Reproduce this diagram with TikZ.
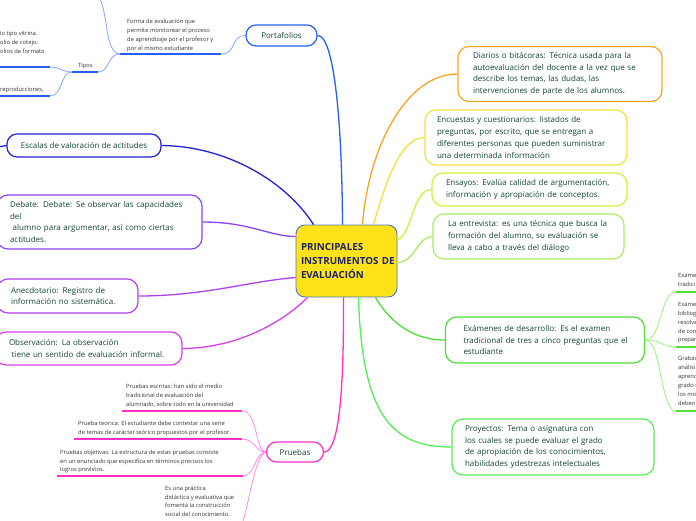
\documentclass[tikz,border=0pt]{standalone}
\usepackage{fontspec}
\setmainfont{Open Sans}
\definecolor{txt}{HTML}{15443A}
\definecolor{stxt}{HTML}{333333}
\definecolor{cblue}{HTML}{2660F5}
\definecolor{lblue}{HTML}{86A6FF}
\definecolor{escb}{HTML}{2222D0}
\definecolor{debc}{HTML}{8B45F0}
\definecolor{anec}{HTML}{B042EE}
\definecolor{obsc}{HTML}{D83FE8}
\definecolor{pruc}{HTML}{FF2FC8}
\definecolor{lpru}{HTML}{FF8AE6}
\definecolor{diac}{HTML}{F6A623}
\definecolor{encc}{HTML}{F2E33A}
\definecolor{ensc}{HTML}{D4F03A}
\definecolor{entc}{HTML}{A8EE62}
\definecolor{exac}{HTML}{52DD38}
\definecolor{lexa}{HTML}{9CF080}
\definecolor{proc}{HTML}{55EE55}
\definecolor{cyel}{HTML}{FFE21A}
\definecolor{cbor}{HTML}{4A78C0}
\definecolor{ctxt}{HTML}{1A2466}
\tikzset{
  mbox/.style={draw, rounded corners=11pt, line width=1.2pt, fill=white, align=left,
    font=\fontsize{8}{11.7}\selectfont, text=txt, inner ysep=0pt},
  pill/.style={draw, rounded corners=10pt, line width=1.2pt, fill=white,
    font=\fontsize{8}{11.7}\selectfont, text=txt, inner sep=0pt},
  conn/.style={line width=1.3pt},
  twig/.style={line width=0.8pt},
  uline/.style={line width=2pt},
  small/.style={font=\fontsize{5.8}{8.9}\selectfont, text=stxt, align=left, inner sep=0pt, anchor=north west}
}
\begin{document}
\begin{tikzpicture}[x=1pt,y=-1pt]
\useasboundingbox (0,0) rectangle (696,520);
\fill[white] (0,0) rectangle (696,520);

% central node
\node[draw=cbor, line width=0.9pt, fill=cyel, rounded corners=9pt, minimum width=101pt, minimum height=72pt,
  text width=99pt, inner xsep=1pt, align=left, font=\bfseries\fontsize{9.8}{13.6}\selectfont, text=ctxt]
  (cen) at (346.5,261) {\hspace*{4pt}PRINCIPALES\\\hspace*{4pt}INSTRUMENTOS DE\\\hspace*{4pt}EVALUACIÓN};

% right side boxes
\node[mbox, draw=diac, minimum width=204pt, minimum height=55pt, text width=180pt, inner xsep=12pt]
  (diar) at (560,74) {\hspace*{3pt}Diarios o bitácoras: Técnica usada para la\\\hspace*{3pt}autoevaluación del docente a la vez que se\\\hspace*{3pt}describe los temas, las dudas, las\\\hspace*{3pt}intervenciones de parte de los alumnos.};
\node[mbox, draw=encc, minimum width=202pt, minimum height=55pt, text width=184pt, inner xsep=9pt]
  (enc) at (526,137.5) {\hspace*{3pt}Encuestas y cuestionarios:  listados de\\\hspace*{3pt}preguntas, por escrito, que se entregan a\\\hspace*{3pt}diferentes personas que pueden suministrar\\\hspace*{3pt}una determinada información};
\node[mbox, draw=ensc, minimum width=195pt, minimum height=33pt, text width=173pt, inner xsep=11pt]
  (ens) at (529.5,189.5) {\hspace*{3pt}Ensayos: Evalúa calidad de argumentación,\\\hspace*{3pt}información y apropiación de conceptos.};
\node[mbox, draw=entc, minimum width=191pt, minimum height=45pt, text width=167pt, inner xsep=12pt]
  (ent) at (528.5,236.5) {\hspace*{3pt}La entrevista: es una técnica que busca la\\\hspace*{3pt}formación del alumno, su evaluación se\\\hspace*{3pt}lleva a cabo a través del diálogo};
\node[mbox, draw=exac, minimum width=199pt, minimum height=46pt, text width=169pt, inner xsep=15pt]
  (exa) at (545,340) {\hspace*{3pt}Exámenes de desarrollo: Es el examen\\\hspace*{3pt}tradicional de tres a cinco preguntas que el\\\hspace*{3pt}estudiante};
\node[mbox, draw=proc, minimum width=202pt, minimum height=56pt, text width=182pt, inner xsep=10pt]
  (proj) at (553,447) {\hspace*{3pt}Proyectos: Tema o asignatura con\\\hspace*{3pt}los cuales se puede evaluar el grado\\\hspace*{3pt}de apropiación de los conocimientos,\\\hspace*{3pt}habilidades ydestrezas intelectuales};

% left side boxes
\node[pill, draw=cblue, minimum width=71pt, minimum height=21pt] (port) at (281.5,35.5) {Portafolios};
\node[pill, draw=escb, minimum width=154pt, minimum height=23pt] (esc) at (84,145.5) {Escalas de valoración de actitudes};
\node[mbox, draw=debc, minimum width=205pt, minimum height=54pt, text width=185pt, inner xsep=10pt]
  (deb) at (99.5,222) {\hspace*{3pt}Debate: Debate: Se observar las capacidades\\\hspace*{3pt}del\\\hspace*{3pt} alumno para argumentar, así como ciertas\\\hspace*{3pt}actitudes.};
\node[mbox, draw=anec, minimum width=141pt, minimum height=34pt, text width=113pt, inner xsep=14pt]
  (anec) at (67.5,296) {Anecdotario: Registro de\\información no sistemática.};
\node[mbox, draw=obsc, minimum width=187pt, minimum height=33pt, text width=165pt, inner xsep=11pt]
  (obs) at (88.5,348.5) {\hspace*{3pt}Observación:  La observación\\\hspace*{3pt} tiene un sentido de evaluación informal.};
\node[pill, draw=pruc, minimum width=57pt, minimum height=20pt] (prue) at (295,452) {Pruebas};

% main connectors
\draw[conn, cblue] (port.east) .. controls (334,35) and (342,120) .. ([xshift=-4pt]cen.north);
\draw[conn, diac] (diar.west) .. controls (405,74) and (368,150) .. ([xshift=16pt]cen.north);
\draw[conn, encc] (enc.west) .. controls (400,137) and (385,185) .. ([xshift=27pt]cen.north);
\draw[conn, ensc] (ens.west) .. controls (412,190) and (412,236) .. ([yshift=-15pt]cen.north east);
\draw[conn, entc] (ent.west) .. controls (418,236) and (415,262) .. ([yshift=-38pt]cen.north east);
\draw[conn, exac] (exa.west) .. controls (415,340) and (392,325) .. ([xshift=-22pt]cen.south east);
\draw[conn, proc] (proj.west) .. controls (395,447) and (362,420) .. ([xshift=12pt]cen.south);
\draw[conn, pruc] (prue.east) .. controls (338,452) and (344,400) .. ([xshift=-3pt]cen.south);
\draw[conn, escb] (esc.east) .. controls (225,146) and (285,180) .. ([xshift=18pt]cen.north west);
\draw[conn, debc] (deb.east) .. controls (250,222) and (268,236) .. ([yshift=-12pt]cen.north west);
\draw[conn, anec] (anec.east) .. controls (205,296) and (250,281) .. ([yshift=-53pt]cen.north west);
\draw[conn, obsc] (obs.east) .. controls (240,348) and (285,320) .. ([xshift=12pt]cen.south west);

% Escalas short stub to left
\coordinate (escl) at (-2,147);
\draw[conn, escb] (escl) -- (esc.west);

% Portafolios sub-branches
\coordinate (fu1) at (120,54);
\coordinate (fu2) at (221,54);
\coordinate (topc) at (99,-3);
\coordinate (tu1) at (72,72);
\coordinate (tu2) at (98,72);
\coordinate (ta1) at (-2,67);
\coordinate (ta2) at (50,67);
\coordinate (tb1) at (-2,96);
\coordinate (tb2) at (50,96);
\node[small] (forma) at (127,19) {Forma de evaluación que\\permite monitorear el proceso\\de aprendizaje por el profesor y\\por el mismo estudiante};
\node[small] (tipos) at (78,63.5) {Tipos};
\node[small] (tipa) at (0,31.5) {io tipo vitrina.\\olio de cotejo.\\olios de formato};
\node[small] (tipb) at (0,86.5) {reproducciones,};
\draw[uline, cblue] (fu1) -- (fu2);
\draw[uline, cblue] (tu1) -- (tu2);
\draw[uline, cblue] (ta1) -- (ta2);
\draw[uline, cblue] (tb1) -- (tb2);
\draw[twig, lblue] (fu2) .. controls (237,54) and (230,35.5) .. (port.west);
\draw[twig, lblue] (topc) .. controls (109,15) and (104,52) .. (fu1);
\draw[twig, lblue] (tu2) .. controls (110,72) and (107,54) .. (fu1);
\draw[twig, lblue] (ta2) .. controls (60,67) and (62,72) .. (tu1);
\draw[twig, lblue] (tb2) .. controls (63,96) and (60,72) .. (tu1);

% Pruebas sub-branches
\coordinate (pa1) at (122,411);
\coordinate (pa2) at (242,411);
\coordinate (pb1) at (74,439);
\coordinate (pb2) at (242,439);
\coordinate (pc1) at (57,476);
\coordinate (pc2) at (243,476);
\coordinate (pd) at (242,524);
\node[small] (pesc) at (126,384) {Pruebas escritas: han sido el medio\\tradicional de evaluación del\\alumnado, sobre todo en la universidad};
\node[small] (pteo) at (78,420.5) {Prueba teorica: El estudiante debe contestar una serie\\de temas de carácter teórico propuestos por el profesor.};
\node[small] (pobj) at (60,449.5) {Pruebas objetivas: La estructura de estas pruebas consiste\\en un enunciado que especifica en términos precisos los\\logros previstos.};
\node[small] (pprac) at (165,485.5) {Es una práctica\\didáctica y evaluativa que\\fomenta la construcción\\social del conocimiento.};
\draw[uline, pruc] (pa1) -- (pa2);
\draw[uline, pruc] (pb1) -- (pb2);
\draw[uline, pruc] (pc1) -- (pc2);
\draw[twig, lpru] (prue.west) .. controls (255,452) and (258,411) .. (pa2);
\draw[twig, lpru] (prue.west) .. controls (255,452) and (255,439) .. (pb2);
\draw[twig, lpru] (prue.west) .. controls (255,452) and (255,476) .. (pc2);
\draw[twig, lpru] (prue.west) .. controls (255,455) and (250,500) .. (pd);

% Examenes sub-branches
\coordinate (ea) at (676,292);
\coordinate (eb) at (676,347);
\coordinate (ec) at (676,411);
\coordinate (ea2) at (700,292);
\coordinate (eb2) at (700,347);
\coordinate (ec2) at (700,411);
\node[small] (exa1) at (678,273) {Exame\\tradici};
\node[small] (exa2) at (678,302) {Exame\\bibliog\\resolve\\de con\\prepar};
\node[small] (exa3) at (678,356) {Grabac\\análisi\\aprend\\grado d\\los mis\\deben};
\draw[uline, exac] (ea) -- (ea2);
\draw[uline, exac] (eb) -- (eb2);
\draw[uline, exac] (ec) -- (ec2);
\draw[twig, lexa] (exa.east) .. controls (662,340) and (660,292) .. (ea);
\draw[twig, lexa] (exa.east) .. controls (662,340) and (662,347) .. (eb);
\draw[twig, lexa] (exa.east) .. controls (662,340) and (660,411) .. (ec);
\end{tikzpicture}
\end{document}
